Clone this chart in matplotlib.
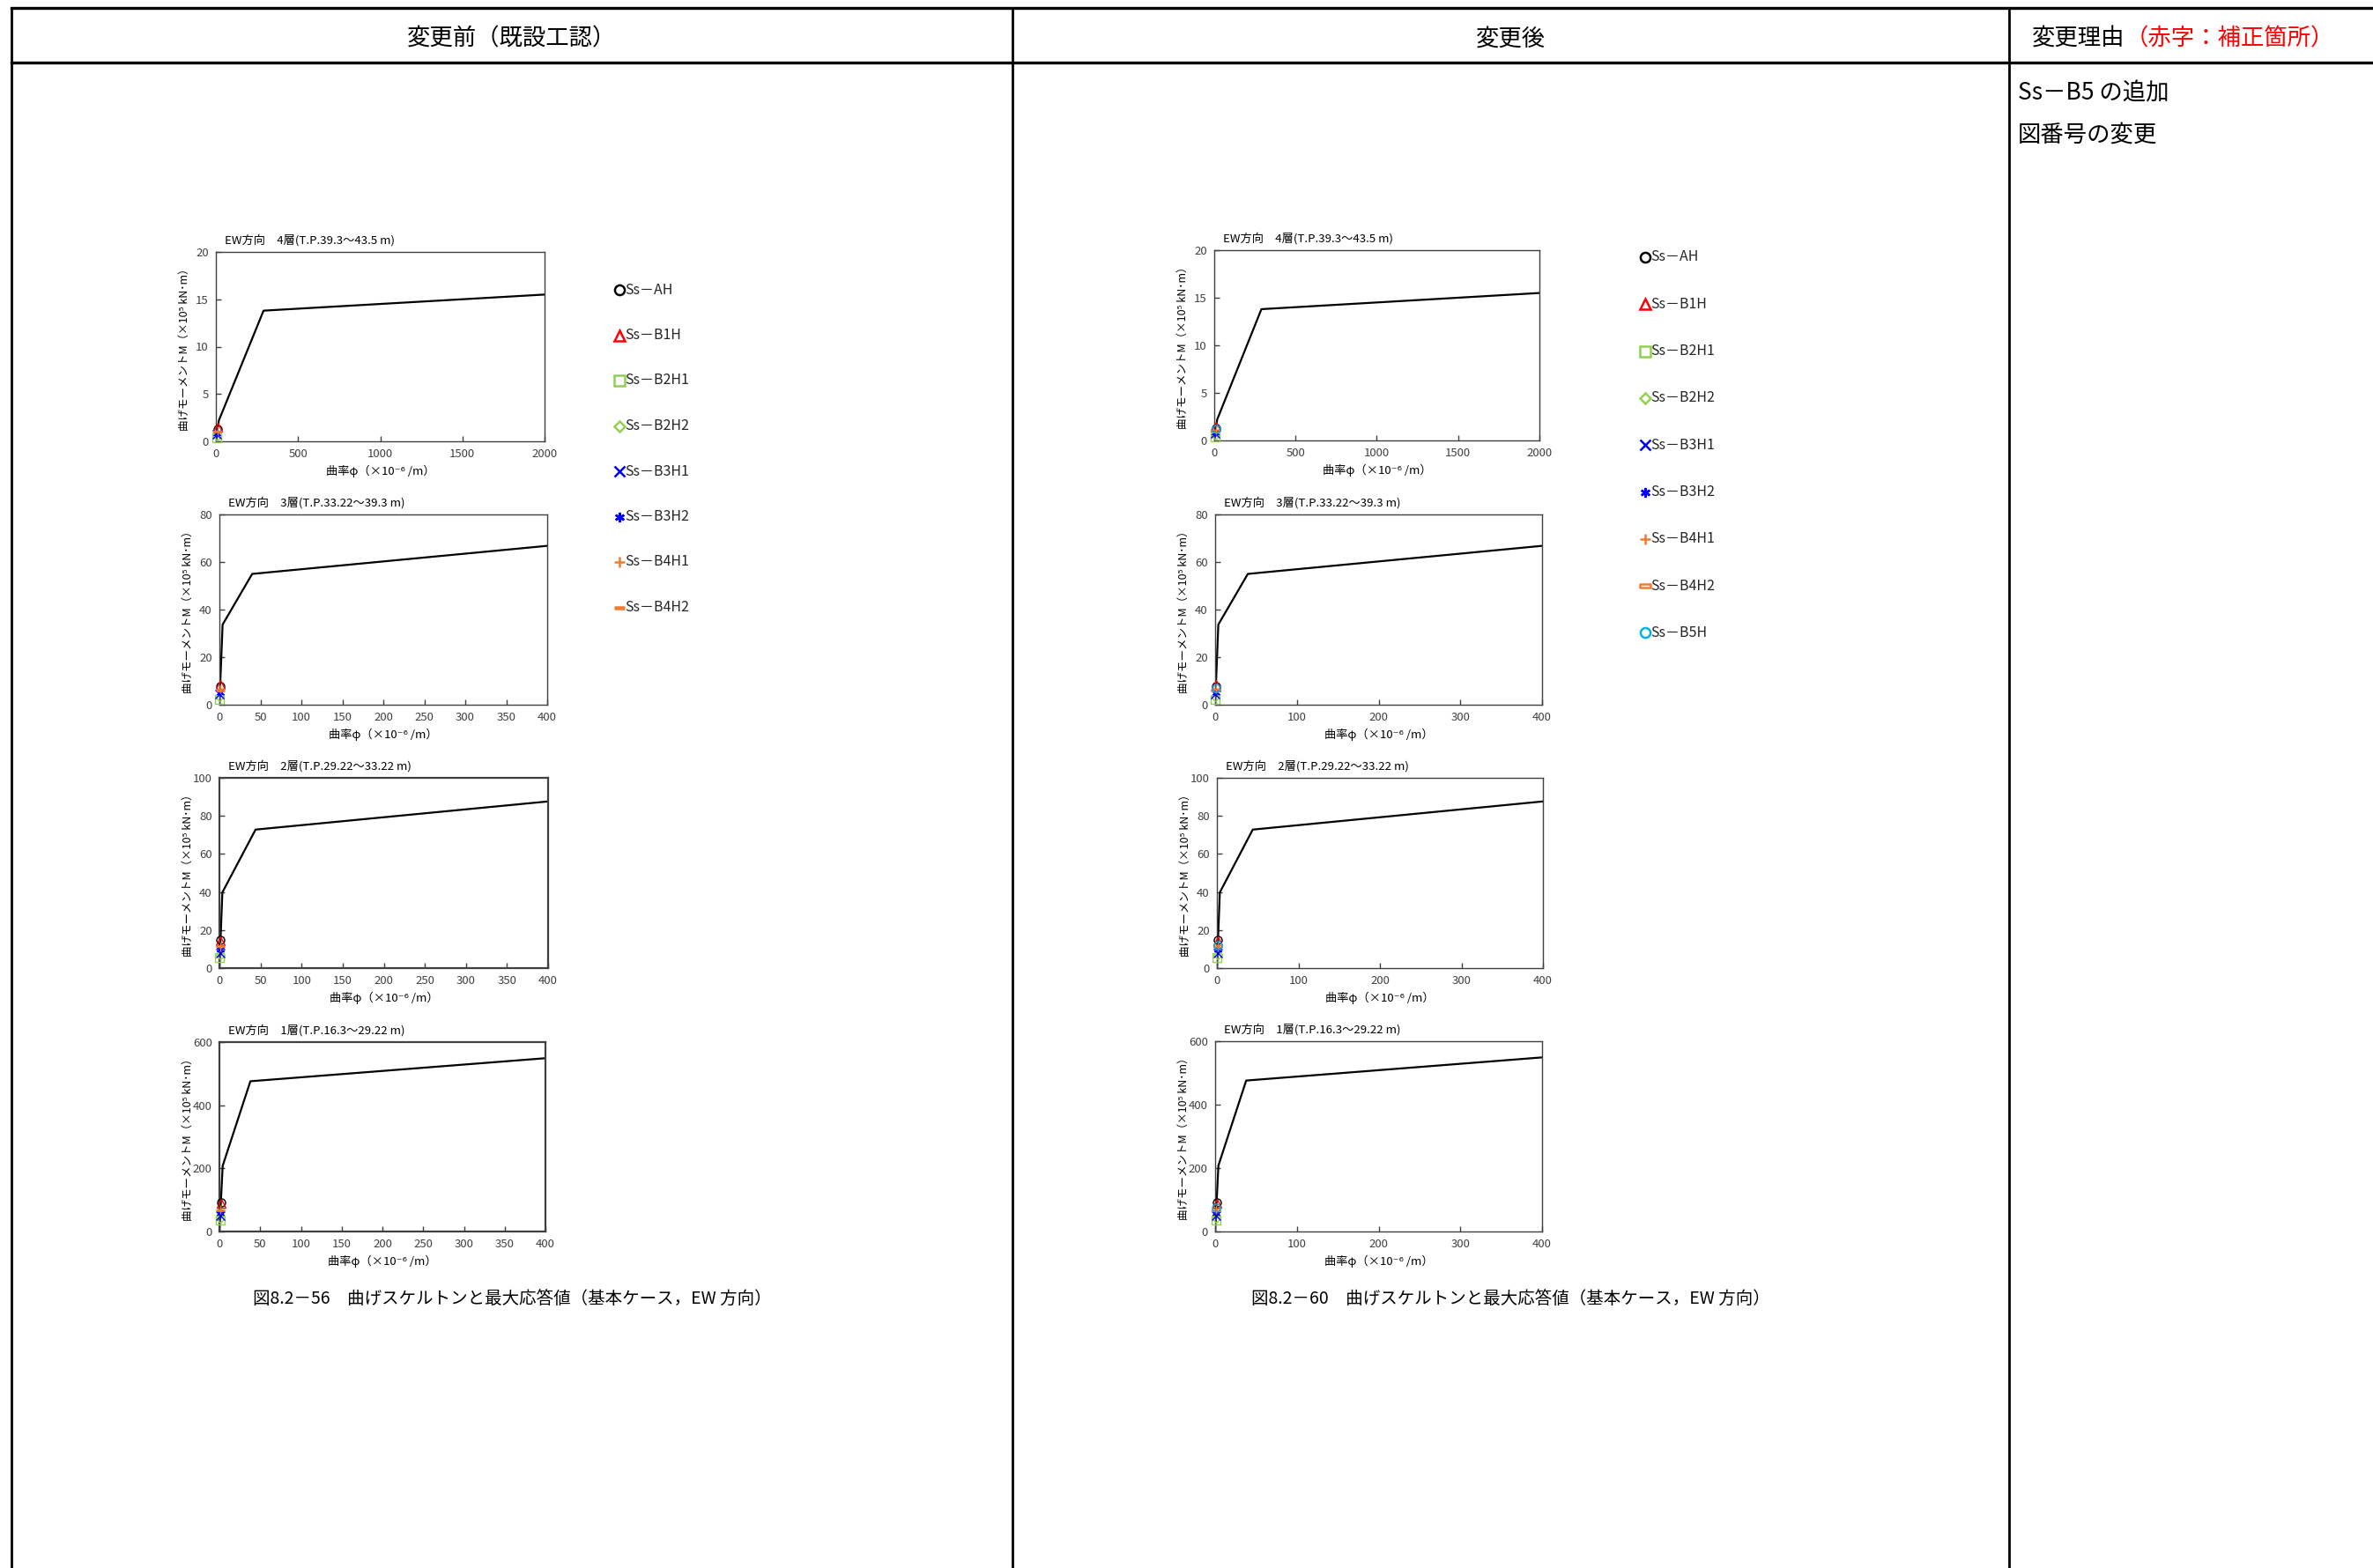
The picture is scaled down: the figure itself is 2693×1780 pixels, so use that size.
import numpy as np
import matplotlib
matplotlib.use('Agg')
import matplotlib.pyplot as plt
from matplotlib.path import Path

plt.rcParams['font.family'] = ['Noto Sans CJK JP', 'DejaVu Sans']

W, H = 2693, 1780
DPI = 100

# skeleton curves: curvature phi (x1e-6 /m) and moment M (x1e5 kN*m)
skel_phi_4 = [0, 18, 290, 2000]
skel_m_4 = [0, 2.2, 13.8, 15.5]
skel_phi_3 = [0, 3.9, 40, 400]
skel_m_3 = [0, 33.7, 55.0, 66.8]
skel_phi_2 = [0, 3.6, 44, 400]
skel_m_2 = [0, 39.8, 72.8, 87.6]
skel_phi_1 = [0, 4.0, 38, 400]
skel_m_1 = [0, 208, 476, 549]

cases = ['Ss－AH', 'Ss－B1H', 'Ss－B2H1', 'Ss－B2H2', 'Ss－B3H1',
         'Ss－B3H2', 'Ss－B4H1', 'Ss－B4H2', 'Ss－B5H']

# maximum responses per case (last entry Ss-B5H only in the revised figure)
resp_phi_4 = [10.5, 12.0, 3.5, 5.0, 5.5, 6.5, 9.0, 8.0, 10.0]
resp_m_4 = [1.3, 1.5, 0.4, 0.6, 0.7, 0.8, 1.1, 1.0, 1.2]
resp_phi_3 = [0.95, 1.0, 0.3, 0.42, 0.53, 0.62, 0.77, 0.71, 0.83]
resp_m_3 = [7.9, 8.4, 2.3, 3.5, 4.5, 5.3, 6.6, 6.1, 7.1]
resp_phi_2 = [1.35, 1.3, 0.5, 0.65, 0.75, 0.85, 1.0, 1.05, 1.1]
resp_m_2 = [15.0, 14.5, 5.5, 7.0, 8.0, 9.5, 11.0, 11.5, 12.0]
resp_phi_1 = [1.8, 1.7, 0.7, 0.85, 1.0, 1.15, 1.35, 1.3, 1.45]
resp_m_1 = [93, 88, 35, 43, 50, 58, 70, 67, 75]

titles = ['EW方向　4層(T.P.39.3～43.5 m)', 'EW方向　3層(T.P.33.22～39.3 m)',
          'EW方向　2層(T.P.29.22～33.22 m)', 'EW方向　1層(T.P.16.3～29.22 m)']
xlabel = '曲率φ（×10⁻⁶ /m）'
ylabel = '曲げモーメントM（×10⁵ kN･m）'

green = '#92D050'
orange = '#ED7D31'
rect_marker = Path([(-1, -0.3), (1, -0.3), (1, 0.3), (-1, 0.3), (-1, -0.3)],
                   [Path.MOVETO, Path.LINETO, Path.LINETO, Path.LINETO, Path.CLOSEPOLY])


def marker_style(i, revised, big=False):
    ms = 8 if big else 6.5
    mew = 1.8 if big else 1.0
    styles = [
        dict(marker='o', mfc='none', mec='black'),
        dict(marker='^', mfc='none', mec='red'),
        dict(marker='s', mfc='none', mec=green),
        dict(marker='D', mfc='none', mec=green, ms=ms * 0.75),
        dict(marker='x', color='blue'),
        dict(marker=(6, 2, 0), color='blue'),
        dict(marker='+', color=orange),
        dict(marker=rect_marker, mfc='none', mec=orange) if revised else
        dict(marker='_', color=orange, mew=mew * 1.8),
        dict(marker='o', mfc='none', mec='#00B0F0'),
    ]
    st = dict(ms=ms, mew=mew)
    st.update(styles[i])
    return st


fig = plt.figure(figsize=(W / DPI, H / DPI), dpi=DPI)
bg = fig.add_axes([0, 0, 1, 1])
bg.set_xlim(0, W)
bg.set_ylim(H, 0)
bg.axis('off')

# table frame
col_x = [13, 1149, 2280]
for cx in col_x:
    bg.plot([cx, cx], [9, H], color='black', lw=2)
bg.plot([col_x[0], W], [9, 9], color='black', lw=2.4)
bg.plot([col_x[0], W], [71, 71], color='black', lw=2.4)

bg.text((col_x[0] + col_x[1]) / 2, 44, '変更前（既設工認）', ha='center', va='center', fontsize=19)
bg.text((col_x[1] + col_x[2]) / 2, 44, '変更後', ha='center', va='center', fontsize=19)
t1 = bg.text(2306, 44, '変更理由', ha='left', va='center', fontsize=19)
bg.annotate('（赤字：補正箇所）', xy=(1, 0.5), xycoords=t1, ha='left', va='center',
            fontsize=19, color='red')
bg.text(2290, 106, 'Ss－B5 の追加', ha='left', va='center', fontsize=19)
bg.text(2290, 153, '図番号の変更', ha='left', va='center', fontsize=19)

bg.text((col_x[0] + col_x[1]) / 2, 1475,
        '図8.2－56　曲げスケルトンと最大応答値（基本ケース，EW 方向）',
        ha='center', va='center', fontsize=14)
bg.text((col_x[1] + col_x[2]) / 2, 1475,
        '図8.2－60　曲げスケルトンと最大応答値（基本ケース，EW 方向）',
        ha='center', va='center', fontsize=14)


def draw_panel(rect, phi, m, rphi, rm, xmax, xstep, ymax, ystep, title,
               n_cases, revised, frame_lw=1.0):
    x, y, w, h = rect
    ax = fig.add_axes([x / W, 1 - (y + h) / H, w / W, h / H])
    ax.plot(phi, m, color='black', lw=1.6, zorder=2)
    for i in range(n_cases):
        ax.plot([rphi[i]], [rm[i]], linestyle='none', zorder=3, clip_on=False,
                **marker_style(i, revised))
    ax.set_xlim(0, xmax)
    ax.set_ylim(0, ymax)
    ax.set_xticks(np.arange(0, xmax + 1, xstep))
    ax.set_yticks(np.arange(0, ymax + 1, ystep))
    ax.tick_params(direction='in', length=4, width=1, labelsize=9.5,
                   labelcolor='#404040', color='#404040', pad=6)
    for sp in ax.spines.values():
        sp.set_color('#404040')
        sp.set_linewidth(frame_lw)
    ax.text(10 / w, 1 + 13 / h, title, transform=ax.transAxes, ha='left',
            va='center', fontsize=9.5)
    ax.text(0.5, -34 / h, xlabel, transform=ax.transAxes, ha='center',
            va='center', fontsize=9.5)
    ax.text(-36 / w, 0.5, ylabel, transform=ax.transAxes, ha='center',
            va='center', rotation=90, fontsize=9)
    return ax


skel_phi = [skel_phi_4, skel_phi_3, skel_phi_2, skel_phi_1]
skel_m = [skel_m_4, skel_m_3, skel_m_2, skel_m_1]
resp_phi = [resp_phi_4, resp_phi_3, resp_phi_2, resp_phi_1]
resp_m = [resp_m_4, resp_m_3, resp_m_2, resp_m_1]
xmax = [2000, 400, 400, 400]
ymax = [20, 80, 100, 600]
ystep = [5, 20, 20, 200]

left_rects = [(245, 286, 373, 215), (249, 584, 372, 216),
              (249, 883, 373, 216), (249, 1183, 370, 215)]
right_rects = [(1378, 284, 369, 216), (1379, 584, 371, 216),
               (1381, 883, 370, 216), (1379, 1182, 371, 216)]
left_xstep = [500, 50, 50, 50]
right_xstep = [500, 100, 100, 100]
left_frame = [1.0, 1.0, 1.6, 1.6]

for k in range(4):
    draw_panel(left_rects[k], skel_phi[k], skel_m[k], resp_phi[k], resp_m[k],
               xmax[k], left_xstep[k], ymax[k], ystep[k], titles[k],
               8, False, left_frame[k])
    draw_panel(right_rects[k], skel_phi[k], skel_m[k], resp_phi[k], resp_m[k],
               xmax[k], right_xstep[k], ymax[k], ystep[k], titles[k],
               9, True)

# legends drawn as marker + label rows
for n, revised, mx, y0, dy in [(8, False, 703, 329, 51.5), (9, True, 1867, 292, 53.3)]:
    for i in range(n):
        yy = y0 + i * dy
        bg.plot([mx], [yy], linestyle='none', **marker_style(i, revised, big=True))
        bg.text(mx + 6, yy, cases[i], ha='left', va='center', fontsize=11.5,
                color='#262626')

fig.savefig('out.png', dpi=DPI)
